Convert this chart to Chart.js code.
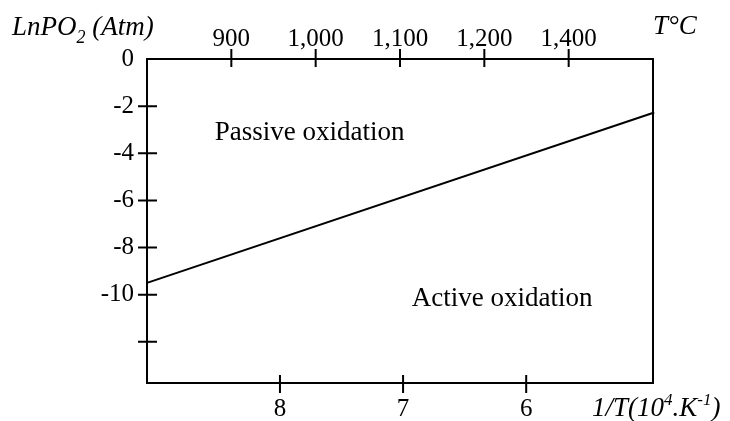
<!DOCTYPE html>
<html><head><meta charset="utf-8">
<script src="https://cdn.jsdelivr.net/npm/chart.js@4.4.0/dist/chart.umd.min.js"></script>
<style>html,body{margin:0;padding:0;background:#fff;}#wrap{width:730px;height:421px;}</style>
</head><body><div id="wrap"><canvas id="c" width="730" height="421"></canvas></div>
<script>
// ---- data ----
const inverseTempTicks = [8, 7, 6];                 // 1/T (10^4 K^-1)
const tempLabels = ['900', '1,000', '1,100', '1,200', '1,400']; // T °C (top axis)
const lnPO2Ticks = [0, -2, -4, -6, -8, -10, -12];
const lnPO2Labels = ['0', '-2', '-4', '-6', '-8', '-10', ''];
const boundaryX = [9.08, 4.96];   // 1/T at the ends of the boundary line
const boundaryY = [-9.5, -2.27];  // LnPO2 at the ends of the boundary line
const regionNames = ['Passive oxidation', 'Active oxidation'];
const regionAtX = [8.53, 6.93];
const regionAtY = [-3.43, -10.5];

const SERIF = "'Liberation Serif', 'Times New Roman', serif";
const tickFont = { family: SERIF, size: 25 };

function drawRuns(ctx, x, y, runs) {
  let cx = x;
  for (const r of runs) {
    ctx.font = (r.italic ? 'italic ' : '') + r.size + 'px ' + SERIF;
    ctx.fillText(r.t, cx, y + (r.dy || 0));
    cx += ctx.measureText(r.t).width;
  }
}

const decor = {
  id: 'decor',
  afterDatasetsDraw(chart) {
    const { ctx, chartArea: a, scales } = chart;
    ctx.save();
    ctx.strokeStyle = '#000';
    ctx.lineWidth = 2;
    ctx.strokeRect(a.left, a.top, a.right - a.left, a.bottom - a.top);
    ctx.beginPath();
    lnPO2Ticks.forEach(v => {
      if (v === 0) return;
      const p = scales.y.getPixelForValue(v);
      ctx.moveTo(a.left - 9, p); ctx.lineTo(a.left + 10, p);
    });
    inverseTempTicks.forEach(v => {
      const p = scales.x.getPixelForValue(v);
      ctx.moveTo(p, a.bottom - 8); ctx.lineTo(p, a.bottom + 10);
    });
    tempLabels.forEach((_, i) => {
      const p = scales.x2.getPixelForValue(i);
      ctx.moveTo(p, a.top - 10); ctx.lineTo(p, a.top + 8);
    });
    ctx.stroke();

    ctx.fillStyle = '#000';
    ctx.textAlign = 'left';
    ctx.textBaseline = 'alphabetic';
    drawRuns(ctx, 12, 35, [
      { t: 'LnPO', size: 27, italic: true },
      { t: '2', size: 18, italic: true, dy: 8 },
      { t: ' (Atm)', size: 27, italic: true }
    ]);
    drawRuns(ctx, 653, 34, [{ t: 'T°C', size: 27, italic: true }]);
    drawRuns(ctx, 592, 416, [
      { t: '1/T(10', size: 27, italic: true },
      { t: '4', size: 17, italic: true, dy: -11 },
      { t: '.K', size: 27, italic: true },
      { t: '-1', size: 17, italic: true, dy: -11 },
      { t: ')', size: 27, italic: true }
    ]);
    ctx.font = '27px ' + SERIF;
    regionNames.forEach((n, i) => {
      ctx.fillText(n, scales.x.getPixelForValue(regionAtX[i]), scales.y.getPixelForValue(regionAtY[i]));
    });
    ctx.restore();
  }
};

new Chart(document.getElementById('c'), {
  type: 'scatter',
  data: {
    datasets: [{
      data: boundaryX.map((x, i) => ({ x, y: boundaryY[i] })),
      showLine: true,
      borderColor: '#000',
      borderWidth: 2,
      pointRadius: 0,
      clip: false
    }]
  },
  options: {
    responsive: false,
    devicePixelRatio: 1,
    animation: false,
    layout: { padding: { left: 0, right: 77, top: 0, bottom: 0 } },
    plugins: { legend: { display: false }, tooltip: { enabled: false } },
    scales: {
      x: {
        type: 'linear', position: 'bottom', reverse: true, min: 4.97, max: 9.08,
        afterBuildTicks: s => { s.ticks = inverseTempTicks.map(v => ({ value: v })); },
        ticks: { font: tickFont, color: '#000', padding: 11, maxRotation: 0, autoSkip: false, callback: v => String(v) },
        grid: { display: false, drawTicks: false },
        border: { display: false },
        afterFit: s => { s.height = 38; }
      },
      x2: {
        type: 'linear', position: 'top', min: -1, max: 5,
        afterBuildTicks: s => { s.ticks = tempLabels.map((_, i) => ({ value: i })); },
        ticks: { font: tickFont, color: '#000', padding: 5, maxRotation: 0, autoSkip: false, callback: v => tempLabels[v] },
        grid: { display: false, drawTicks: false },
        border: { display: false },
        afterFit: s => { s.height = 59; }
      },
      y: {
        type: 'linear', position: 'left', min: -13.75, max: 0,
        afterBuildTicks: s => { s.ticks = lnPO2Ticks.map(v => ({ value: v })); },
        ticks: { font: tickFont, color: '#000', padding: 13, autoSkip: false, callback: v => lnPO2Labels[lnPO2Ticks.indexOf(v)] },
        grid: { display: false, drawTicks: false },
        border: { display: false },
        afterFit: s => { s.width = 147; }
      }
    }
  },
  plugins: [decor]
});
</script>
</body></html>
